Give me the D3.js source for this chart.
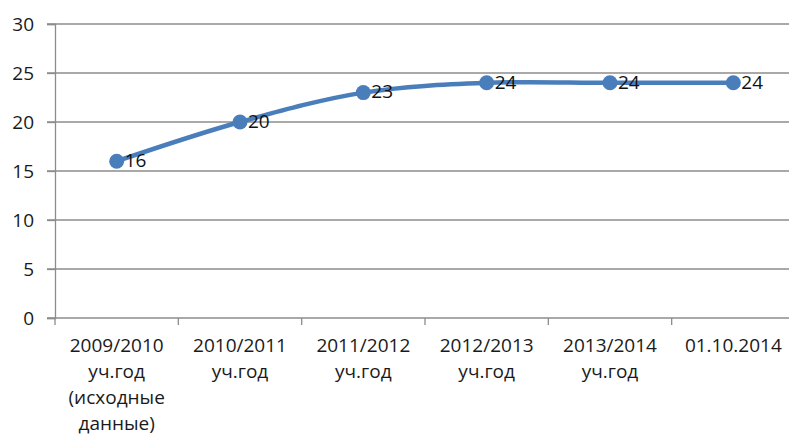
<!DOCTYPE html>
<html>
<head>
<meta charset="utf-8">
<script src="https://cdn.jsdelivr.net/npm/d3@7"></script>
<style>
body { margin: 0; background: #fff; }
svg text { font-family: "Open Sans", "Noto Sans", sans-serif; }
</style>
</head>
<body>
<svg id="chart"></svg>
<script>
const categories = [
    ['2009/2010', 'уч.год', '(исходные', 'данные)'],
    ['2010/2011', 'уч.год'],
    ['2011/2012', 'уч.год'],
    ['2012/2013', 'уч.год'],
    ['2013/2014', 'уч.год'],
    ['01.10.2014']
];
const values = [16, 20, 23, 24, 24, 24];
const yticks = [0, 5, 10, 15, 20, 25, 30];

const width = 789, height = 437;
const margin = {top: 24, right: -6, bottom: 119, left: 55};
const color = '#4a7ebb';
const gridColor = '#8c8c8c';

const svg = d3.select('#chart')
    .attr('width', width)
    .attr('height', height);
const chart = svg.append('g')
    .attr('transform', `translate(${margin.left}, ${margin.top})`);
const inner_width = width - margin.left - margin.right;
const inner_height = height - margin.top - margin.bottom;

const xscale = d3.scaleBand()
    .domain(d3.range(categories.length))
    .range([0, inner_width]);
const yscale = d3.scaleLinear()
    .domain([0, 30])
    .range([inner_height, 0]);

// gridlines
chart.selectAll('.grid')
    .data(yticks)
    .join('line')
    .attr('x1', -8)
    .attr('x2', inner_width)
    .attr('y1', d => yscale(d))
    .attr('y2', d => yscale(d))
    .attr('stroke', gridColor)
    .attr('stroke-width', 1.3);

// y axis
const yaxis_group = chart.append('g')
    .call(d3.axisLeft(yscale).tickValues(yticks).tickSize(8).tickPadding(13));
yaxis_group.select('.domain').attr('stroke', gridColor).attr('stroke-width', 1.3);
yaxis_group.selectAll('.tick line').attr('stroke', gridColor).attr('stroke-width', 1.3);
yaxis_group.selectAll('.tick text')
    .style('font-size', '19px')
    .attr('fill', '#1a1a1a');

// x axis: ticks at category boundaries
const xaxis_group = chart.append('g')
    .attr('transform', `translate(0, ${inner_height})`);
xaxis_group.selectAll('line')
    .data(d3.range(categories.length + 1))
    .join('line')
    .attr('x1', d => d * xscale.bandwidth())
    .attr('x2', d => d * xscale.bandwidth())
    .attr('y1', 0)
    .attr('y2', 7)
    .attr('stroke', gridColor)
    .attr('stroke-width', 1.3);

const labels = xaxis_group.selectAll('text')
    .data(categories)
    .join('text')
    .attr('text-anchor', 'middle')
    .attr('fill', '#1a1a1a')
    .style('font-size', '19px')
    .attr('transform', (d, i) => `translate(${xscale(i) + xscale.bandwidth() / 2}, 34)`);
labels.selectAll('tspan')
    .data(d => d)
    .join('tspan')
    .attr('x', 0)
    .attr('y', (d, i) => i * 26)
    .text(d => d);

// line
const line = d3.line()
    .x((d, i) => xscale(i) + xscale.bandwidth() / 2)
    .y(d => yscale(d))
    .curve(d3.curveCatmullRom.alpha(0.5));
chart.append('path')
    .datum(values)
    .attr('d', line)
    .attr('fill', 'none')
    .attr('stroke', color)
    .attr('stroke-width', 4.5);

chart.selectAll('circle')
    .data(values)
    .join('circle')
    .attr('cx', (d, i) => xscale(i) + xscale.bandwidth() / 2)
    .attr('cy', d => yscale(d))
    .attr('r', 7.5)
    .attr('fill', color);

chart.selectAll('.dlabel')
    .data(values)
    .join('text')
    .attr('class', 'dlabel')
    .attr('x', (d, i) => xscale(i) + xscale.bandwidth() / 2 + 8)
    .attr('y', d => yscale(d))
    .attr('dy', '0.3em')
    .attr('fill', '#111')
    .style('font-size', '19px')
    .text(d => d);
</script>
</body>
</html>
